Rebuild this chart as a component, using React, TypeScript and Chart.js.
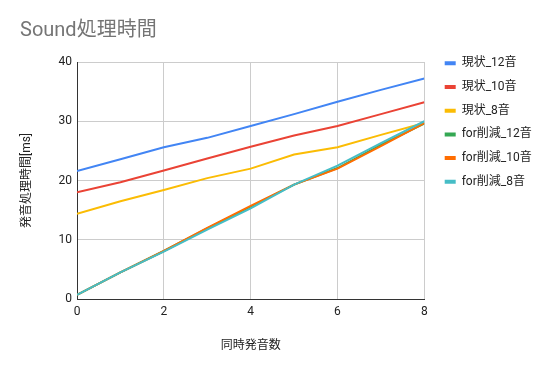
import React, { useEffect, useRef } from 'react';
import { Chart, registerables } from 'chart.js';

Chart.register(...registerables);

const xValues = [0, 1, 2, 3, 4, 5, 6, 7, 8];
const seriesNames = ['現状_12音', '現状_10音', '現状_8音', 'for削減_12音', 'for削減_10音', 'for削減_8音'];
const current12 = [21.6, 23.6, 25.6, 27.2, 29.2, 31.2, 33.3, 35.3, 37.2];
const current10 = [18.0, 19.7, 21.7, 23.7, 25.7, 27.6, 29.2, 31.2, 33.2];
const current8 = [14.4, 16.5, 18.4, 20.4, 22.0, 24.4, 25.6, 27.7, 29.7];
const reduced12 = [0.7, 4.5, 8.1, 11.9, 15.6, 19.3, 22.1, 26.0, 29.6];
const reduced10 = [0.7, 4.5, 8.1, 12.0, 15.7, 19.3, 22.0, 25.8, 29.7];
const reduced8 = [0.7, 4.5, 8.0, 11.7, 15.3, 19.3, 22.5, 26.3, 30.0];
const seriesValues = [current12, current10, current8, reduced12, reduced10, reduced8];
const seriesColors = ['#4285F4', '#EA4335', '#FBBC04', '#34A853', '#FF6D01', '#46BDC6'];
const yTicks = [0, 10, 20, 30, 40];
const xTicks = [0, 2, 4, 6, 8];

const FONT = "Roboto, 'Noto Sans CJK JP', sans-serif";

const legendPlace = {
  id: 'legendPlace',
  afterLayout(chart: any) {
    const l = chart.legend;
    if (!l) return;
    const w = l.width;
    const h = l.height;
    l.left = 433;
    l.right = 433 + w;
    l.top = 45.6;
    l.bottom = 45.6 + h;
  },
};

export default function App() {
  const ref = useRef<HTMLCanvasElement>(null);
  useEffect(() => {
    if (!ref.current) return;
    const chart = new Chart(ref.current, {
      type: 'line',
      data: {
        datasets: seriesNames.map((name, i) => ({
          label: name,
          data: xValues.map((x, j) => ({ x, y: seriesValues[i][j] })),
          borderColor: seriesColors[i],
          backgroundColor: seriesColors[i],
          borderWidth: 2,
          pointRadius: 0,
          tension: 0,
          order: seriesNames.length - i,
        })),
      },
      plugins: [legendPlace],
      options: {
        animation: false,
        responsive: false,
        devicePixelRatio: 1,
        layout: { padding: { left: 20, right: 21, top: 0, bottom: 0 } },
        plugins: {
          tooltip: { enabled: false },
          title: {
            display: true,
            text: 'Sound処理時間',
            align: 'start',
            color: '#757575',
            font: { family: FONT, size: 20, weight: 'normal' },
            padding: { top: 19, bottom: 19 },
          },
          legend: {
            display: true,
            position: 'right',
            align: 'start',
            labels: {
              boxWidth: 11,
              boxHeight: 4,
              padding: 11.7,
              color: '#222222',
              font: { family: FONT, size: 12 },
              generateLabels: (chart: any) =>
                Chart.defaults.plugins.legend.labels
                  .generateLabels(chart)
                  .map((l: any) => ({ ...l, lineWidth: 0 }))
                  .sort((a: any, b: any) => a.datasetIndex - b.datasetIndex),
            },
          },
        },
        scales: {
          x: {
            type: 'linear',
            min: 0,
            max: 8,
            afterBuildTicks: (s: any) => {
              s.ticks = xTicks.map((v) => ({ value: v }));
            },
            afterFit: (s: any) => {
              s.height = 72;
            },
            ticks: {
              color: '#222222',
              font: { family: FONT, size: 12 },
              padding: 6,
              maxRotation: 0,
            },
            grid: { color: '#cccccc', drawTicks: false, lineWidth: 1 },
            border: { color: '#333333', width: 1 },
            title: {
              display: true,
              text: '同時発音数',
              color: '#222222',
              font: { family: FONT, size: 12 },
              padding: { top: 0, bottom: 18 },
            },
          },
          y: {
            min: 0,
            max: 40,
            afterBuildTicks: (s: any) => {
              s.ticks = yTicks.map((v) => ({ value: v }));
            },
            afterFit: (s: any) => {
              s.width = 57;
            },
            ticks: {
              color: '#222222',
              font: { family: FONT, size: 12 },
              padding: 5,
            },
            grid: { color: '#cccccc', drawTicks: false, lineWidth: 1 },
            border: { color: '#333333', width: 1 },
            title: {
              display: true,
              text: '発音処理時間[ms]',
              color: '#222222',
              font: { family: FONT, size: 12 },
              padding: { top: 0, bottom: 0 },
            },
          },
        },
      },
    } as any);
    return () => chart.destroy();
  }, []);
  return (
    <div style={{ position: 'fixed', left: 0, top: 0, width: 554, height: 371, background: '#fff' }}>
      <canvas ref={ref} width={554} height={371} />
    </div>
  );
}
